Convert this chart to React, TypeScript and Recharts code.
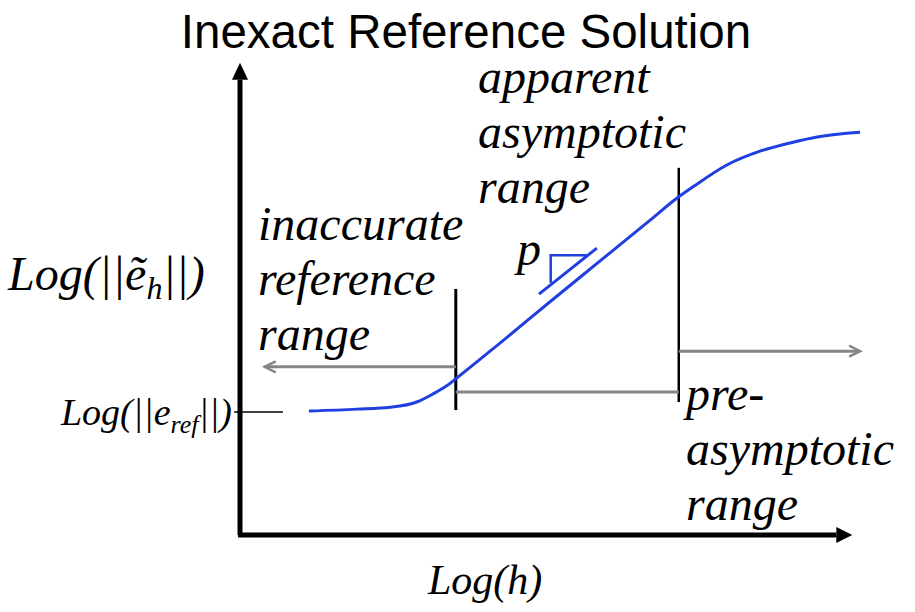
import { ComposedChart, Line, XAxis, YAxis, ReferenceLine } from 'recharts'

const W = 915
const H = 612

// Error curve, Log(h) against Log(error)
const logH = [1.06, 1.8, 2.31, 2.72, 2.97, 3.18, 3.34, 4.0, 4.77, 5.54, 6.31, 6.72, 6.97, 7.49, 8.0, 8.51, 8.88, 9.54]
const logErr = [2.61, 2.65, 2.69, 2.8, 2.97, 3.14, 3.31, 4.04, 4.91, 5.77, 6.63, 7.09, 7.33, 7.79, 8.08, 8.27, 8.38, 8.48]

// slope marker p
const slopeX = [4.6, 5.49]
const slopeY = [5.07, 6.04]
const triangleX = [4.78, 4.78, 5.34]
const triangleY = [5.31, 5.89, 5.89]

// range boundaries (x position, bottom, top)
const refBoundary = [3.32, 2.63, 5.18]
const asymBoundary = [6.75, 2.8, 7.73]

// gray range arrows [y, xFrom, xTo]
const inaccurateArrow = [3.54, 3.32, 0.38]
const asymSpan = [3.01, 3.32, 6.75]
const preAsymArrow = [3.87, 6.75, 9.54]

// Log(||e_ref||) tick [y, xFrom, xTo]
const refErrTick = [2.59, -0.09, 0.66]

// axis ends
const yAxisTop = 9.94
const xAxisEnd = 9.42

const curve = logH.map((x, i) => ({ x, y: logErr[i] }))
const slope = slopeX.map((x, i) => ({ x, y: slopeY[i] }))
const triangle = triangleX.map((x, i) => ({ x, y: triangleY[i] }))

const BLUE = '#1f3fe0'
const GRAY = '#868686'

// line with an arrow head drawn at its (x2, y2) end
const arrowShape = (kind: 'solid' | 'open', len: number, half: number) => (props: any) => {
  const { x1, y1, x2, y2, stroke, strokeWidth } = props
  const a = Math.atan2(y2 - y1, x2 - x1)
  const ux = Math.cos(a)
  const uy = Math.sin(a)
  const bx = x2 - ux * len
  const by = y2 - uy * len
  const p1 = `${bx - uy * half},${by + ux * half}`
  const p2 = `${bx + uy * half},${by - ux * half}`
  const endX = kind === 'solid' ? bx : x2
  const endY = kind === 'solid' ? by : y2
  return (
    <g>
      <line x1={x1} y1={y1} x2={endX} y2={endY} stroke={stroke} strokeWidth={strokeWidth} />
      {kind === 'solid' ? (
        <polygon points={`${x2},${y2} ${p1} ${p2}`} fill={stroke} />
      ) : (
        <polyline points={`${p1} ${x2},${y2} ${p2}`} fill="none" stroke={stroke} strokeWidth={strokeWidth - 0.5} />
      )}
    </g>
  )
}

const serif = 'Liberation Serif, Tinos, DejaVu Serif, serif'
const labelStyle = { fontFamily: serif, fontStyle: 'italic' as const }

export default function App() {
  return (
    <div style={{ position: 'fixed', left: 0, top: 0, width: W, height: H, background: '#fff' }}>
      <ComposedChart width={W} height={H} margin={{ top: 60, right: 25, bottom: 77, left: 240 }}>
        <XAxis type="number" dataKey="x" domain={[0, 10]} hide />
        <YAxis type="number" dataKey="y" domain={[0, 10]} hide />

        {/* axes */}
        <ReferenceLine
          segment={[{ x: 0, y: 0 }, { x: 0, y: yAxisTop }]}
          stroke="#000"
          strokeWidth={5}
          shape={arrowShape('solid', 17, 8)}
        />
        <ReferenceLine
          segment={[{ x: -0.03, y: 0 }, { x: xAxisEnd, y: 0 }]}
          stroke="#000"
          strokeWidth={5}
          ifOverflow="visible"
          shape={arrowShape('solid', 16, 8)}
        />
        <ReferenceLine
          segment={[{ x: refErrTick[1], y: refErrTick[0] }, { x: refErrTick[2], y: refErrTick[0] }]}
          stroke="#000"
          strokeWidth={1.5}
          ifOverflow="visible"
        />

        {/* range boundaries */}
        <ReferenceLine
          segment={[{ x: refBoundary[0], y: refBoundary[1] }, { x: refBoundary[0], y: refBoundary[2] }]}
          stroke="#000"
          strokeWidth={3}
        />
        <ReferenceLine
          segment={[{ x: asymBoundary[0], y: asymBoundary[1] }, { x: asymBoundary[0], y: asymBoundary[2] }]}
          stroke="#000"
          strokeWidth={2.5}
        />

        {/* gray range arrows */}
        <ReferenceLine
          segment={[{ x: inaccurateArrow[1], y: inaccurateArrow[0] }, { x: inaccurateArrow[2], y: inaccurateArrow[0] }]}
          stroke={GRAY}
          strokeWidth={3}
          shape={arrowShape('open', 11, 5.5)}
        />
        <ReferenceLine
          segment={[{ x: asymSpan[1], y: asymSpan[0] }, { x: asymSpan[2], y: asymSpan[0] }]}
          stroke={GRAY}
          strokeWidth={3}
        />
        <ReferenceLine
          segment={[{ x: preAsymArrow[1], y: preAsymArrow[0] }, { x: preAsymArrow[2], y: preAsymArrow[0] }]}
          stroke={GRAY}
          strokeWidth={3}
          shape={arrowShape('open', 11, 5.5)}
        />

        <Line data={curve} dataKey="y" type="monotone" stroke={BLUE} strokeWidth={3} dot={false} isAnimationActive={false} />
        <Line data={slope} dataKey="y" type="linear" stroke={BLUE} strokeWidth={3} dot={false} isAnimationActive={false} />
        <Line data={triangle} dataKey="y" type="linear" stroke={BLUE} strokeWidth={2.5} dot={false} isAnimationActive={false} />
      </ComposedChart>

      <svg
        width={W}
        height={H}
        style={{ position: 'absolute', left: 0, top: 0, pointerEvents: 'none', ...labelStyle }}
        fontSize={48}
        fill="#000"
      >
        <text
          x={466}
          y={48}
          textAnchor="middle"
          style={{ fontFamily: 'Liberation Sans, Arial, sans-serif', fontStyle: 'normal' }}
          fontSize={47.5}
        >
          Inexact Reference Solution
        </text>

        <text x={478} y={93}>apparent</text>
        <text x={478} y={148}>asymptotic</text>
        <text x={478} y={203}>range</text>

        <text x={258} y={240}>inaccurate</text>
        <text x={258} y={295}>reference</text>
        <text x={258} y={350}>range</text>

        <text x={517} y={265}>p</text>

        <text x={686} y={410}>pre-</text>
        <text x={686} y={465}>asymptotic</text>
        <text x={686} y={520}>range</text>

        <text x={8} y={290} fontSize={48}>
          Log(||ẽ<tspan dy={9} fontSize={32}>h</tspan>
          <tspan dy={-9}>||)</tspan>
        </text>
        <text x={232} y={425} fontSize={38} textAnchor="end">
          Log(||e<tspan dy={8} fontSize={26}>ref</tspan>
          <tspan dy={-8}>||)</tspan>
        </text>
        <text x={428} y={594} fontSize={42}>Log(h)</text>
      </svg>
    </div>
  )
}
